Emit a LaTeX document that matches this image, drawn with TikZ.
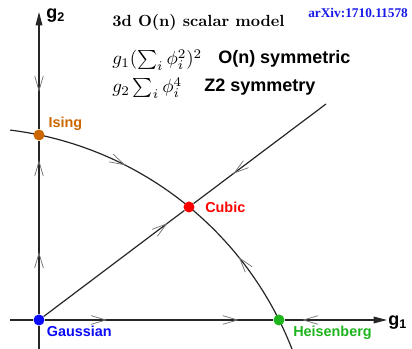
\documentclass[tikz,border=0pt]{standalone}
\usepackage{fontspec}
\usepackage{amsmath}
\usetikzlibrary{arrows.meta,calc,backgrounds,decorations.markings}
\newfontfamily\lblfont{Liberation Sans}
\newfontfamily\reffont{Liberation Serif}
\definecolor{isingc}{RGB}{204,102,0}
\definecolor{cubicc}{RGB}{255,0,0}
\definecolor{heisc}{RGB}{30,180,30}
\definecolor{gaussc}{RGB}{10,10,250}
\definecolor{refc}{RGB}{25,25,235}
\definecolor{chevc}{RGB}{115,115,115}
\newcommand{\cmbold}{\fontencoding{OT1}\fontfamily{cmr}\fontseries{bx}\fontshape{n}\selectfont}

\begin{document}
\begin{tikzpicture}[
  x=0.75pt, y=0.75pt,
  chev/.tip={Straight Barb[length=11pt, width=6.5pt, line width=0.55pt, color=chevc]},
  rg/.style={draw=black!85, line width=0.9pt},
  axis/.style={rg, -{Triangle[length=10pt, width=5pt]}},
  fwd/.style={postaction={decorate, decoration={markings, mark=at position #1 with {\arrow{chev}}}}},
  bwd/.style={postaction={decorate, decoration={markings, mark=at position #1 with {\arrowreversed{chev}}}}},
  fp/.style={circle, fill=#1, inner sep=0pt, minimum size=8.25pt},
  fplbl/.style={font=\lblfont\bfseries\fontsize{10.8}{13}\selectfont, inner sep=0pt, anchor=base west},
  axlbl/.style={font=\lblfont\bfseries\fontsize{13.5}{16}\selectfont, inner sep=0pt, anchor=base west},
  plaintxt/.style={inner sep=0pt, anchor=base west},
  symtxt/.style={font=\lblfont\bfseries\fontsize{13.5}{16}\selectfont, inner sep=0pt, anchor=base west},
  reftxt/.style={font=\reffont\bfseries\fontsize{10}{12}\selectfont, text=refc, inner sep=0pt, anchor=base west},
]
\useasboundingbox (-39,-29) rectangle (373,320);

% fixed points
\node[fp=gaussc] (gauss) at (0,0) {};
\node[fp=heisc]  (heis)  at (240,0) {};
\node[fp=isingc] (ising) at (0,185) {};
\node[fp=cubicc] (cubic) at (150,113) {};

\coordinate (ctr)     at (-71.2,-155.5);
\coordinate (g1start) at (-29,0);
\coordinate (g1end)   at (348,0);
\coordinate (g2start) at (0,-29);
\coordinate (g2end)   at (0,308);
\coordinate (diagend) at (287,216);

% flow lines
\begin{scope}[on background layer]
\draw[rg] (g1start) -- (gauss);
\draw[rg, fwd=0.273, fwd=0.849] (gauss) -- (heis);
\draw[axis, bwd=0.17] (heis) -- (g1end);
\draw[rg] (g2start) -- (gauss);
\draw[rg, fwd=0.359, fwd=0.888] (gauss) -- (ising);
\draw[axis, bwd=0.319] (ising) -- (g2end);
\draw[rg, fwd=0.88] (gauss) -- (cubic);
\draw[rg, bwd=0.30] (cubic) -- (diagend);
\draw[rg, fwd=0.323, bwd=0.715] ([shift={(83:348)}]ctr) arc[start angle=83, end angle=21.3, radius=348];
\end{scope}

% labels
\node[fplbl, text=isingc] (isinglbl) at (9.3,192) {Ising};
\node[fplbl, text=cubicc] (cubiclbl) at (166,107) {Cubic};
\node[fplbl, text=gaussc] (gausslbl) at (7.7,-17) {Gaussian};
\node[fplbl, text=heisc]  (heislbl)  at (254,-17) {Heisenberg};
\node[axlbl] (g2lbl) at (7,301) {g\textsubscript{2}};
\node[axlbl] (g1lbl) at (349,-6) {g\textsubscript{1}};

\node[plaintxt] (title)  at (73,293) {\scalebox{1.21}{\cmbold 3d O(n) scalar model}};
\node[plaintxt] (onterm) at (73,255) {\scalebox{1.42}{$g_1(\sum_i \phi_i^2)^2$}};
\node[symtxt]   (ontxt)  at (179,256.5) {O(n) symmetric};
\node[plaintxt] (zterm)  at (73,227) {\scalebox{1.42}{$g_2\sum_i \phi_i^4$}};
\node[symtxt]   (ztxt)   at (165,228) {Z2 symmetry};
\node[reftxt]   (ref)    at (269,302) {arXiv:1710.11578};

\end{tikzpicture}
\end{document}
